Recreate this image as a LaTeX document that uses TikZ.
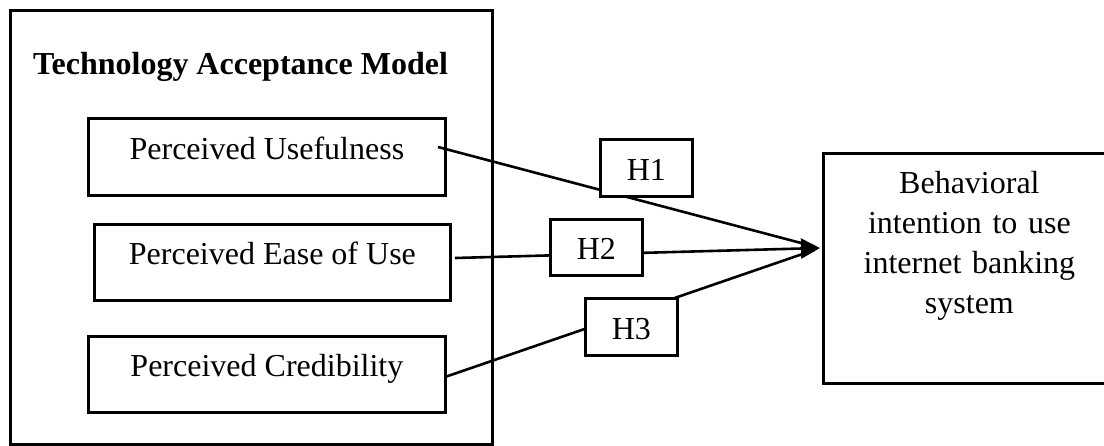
\documentclass[tikz,border=0pt]{standalone}
\usepackage{fontspec}
\setmainfont{Liberation Serif}
\usetikzlibrary{arrows.meta}
\begin{document}
\begin{tikzpicture}[x=1pt,y=-1pt,
  frame/.style={draw, line width=2.8pt, inner sep=0pt, anchor=north west},
  cbox/.style={draw, line width=2.8pt, inner sep=0pt, anchor=north west,
    font=\fontsize{32}{40}\selectfont, fill=white},
  conn/.style={line width=2.6pt},
  tipst/.style={-{Triangle[length=19pt,width=20pt]}}]
\useasboundingbox (0,0) rectangle (1104,445);
\clip (0,0) rectangle (1104,445);
% outer frame
\node[frame, minimum width=482pt, minimum height=434pt] (tam) at (9,9) {};
\node[anchor=base west, inner sep=0pt, font=\fontsize{32}{40}\selectfont\bfseries] (title) at (33,74) {Technology Acceptance Model};
% construct boxes
\node[cbox, minimum width=357pt, text height=41pt, text depth=36pt] (pu) at (87,117) {Perceived Usefulness};
\node[cbox, minimum width=356pt, text height=40pt, text depth=36pt] (pe) at (93,223) {Perceived Ease of Use};
\node[cbox, minimum width=357pt, text height=40pt, text depth=36pt] (pc) at (87,335) {Perceived Credibility};
% dependent box
\node[cbox, minimum width=292pt, text width=280pt, align=center, text height=40pt, text depth=190pt] (bi) at (822,152) {Behavioral\\intention to use\\internet banking\\system};
% connectors
\coordinate (tip) at (820,248);
\coordinate (s1) at (438,147);
\coordinate (s2) at (455,258);
\coordinate (s3) at (445,377);
\draw[conn, shorten >=6pt] (s1) -- (tip);
\draw[conn, shorten >=6pt] (s3) -- (tip);
\draw[conn, tipst] (s2) -- (tip);
% hypothesis labels
\node[cbox, minimum width=92pt, text height=41pt, text depth=16pt] (h1) at (599,138) {H1};
\node[cbox, minimum width=92pt, text height=40pt, text depth=16pt] (h2) at (549,218) {H2};
\node[cbox, minimum width=92pt, text height=41pt, text depth=16pt] (h3) at (584,297) {H3};
\end{tikzpicture}
\end{document}
